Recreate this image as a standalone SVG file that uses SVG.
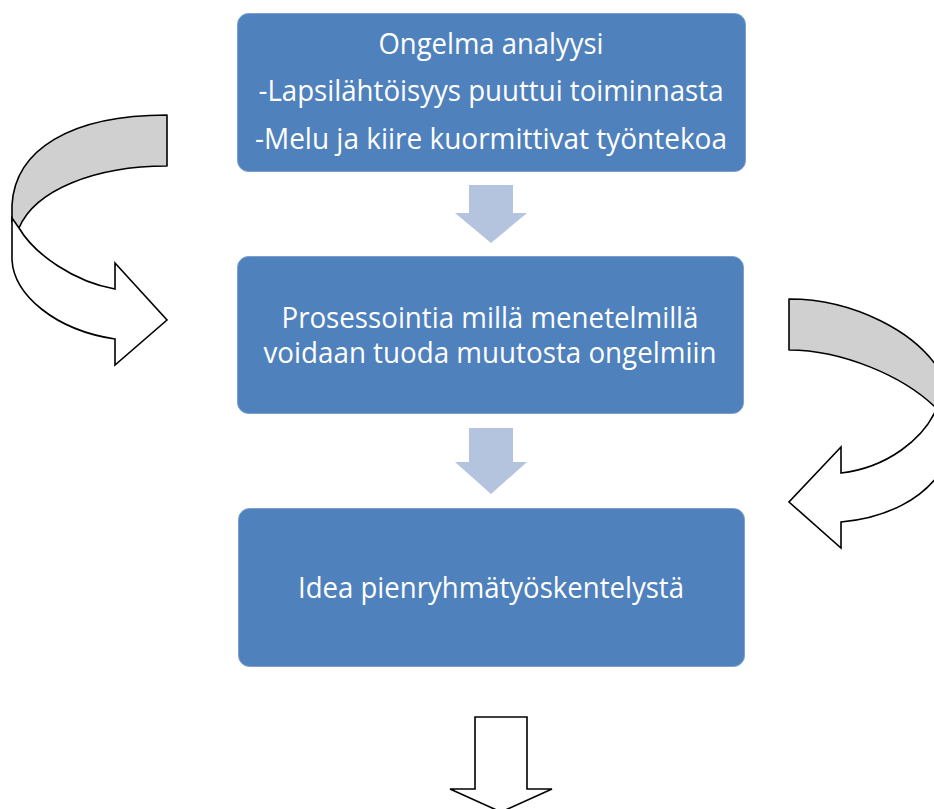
<svg xmlns="http://www.w3.org/2000/svg" width="934" height="809" viewBox="0 0 934 809">
  <style>
    .box { fill: #4F81BD; stroke: #7D9FCB; stroke-width: 1; }
    .lbl { fill: #FFFFFF; font-family: "Open Sans", "Noto Sans", "Liberation Sans", sans-serif; font-size: 28.5px; text-anchor: middle; }
    .chev { fill: #B4C4DF; stroke: none; }
    .ribbon-back { fill: #D0D0D0; stroke: #000000; stroke-width: 1.6; stroke-linejoin: round; }
    .ribbon-front { fill: #FFFFFF; stroke: #000000; stroke-width: 1.6; stroke-linejoin: miter; }
    .outline { fill: #FFFFFF; stroke: #000000; stroke-width: 1.6; }
  </style>
  <rect width="934" height="809" fill="#FFFFFF"/>

  <g id="node-ongelma">
    <rect class="box" x="237.5" y="13.5" width="508" height="158" rx="11"/>
    <text class="lbl" x="491" y="54" textLength="225" lengthAdjust="spacingAndGlyphs">Ongelma analyysi</text>
    <text class="lbl" x="491" y="101" textLength="465" lengthAdjust="spacingAndGlyphs">-Lapsilähtöisyys puuttui toiminnasta</text>
    <text class="lbl" x="491" y="149" textLength="472" lengthAdjust="spacingAndGlyphs">-Melu ja kiire kuormittivat työntekoa</text>
  </g>

  <g id="node-prosessointi">
    <rect class="box" x="237.5" y="256.5" width="506" height="157" rx="11"/>
    <text class="lbl" x="490" y="328" textLength="417" lengthAdjust="spacingAndGlyphs">Prosessointia millä menetelmillä</text>
    <text class="lbl" x="490" y="363" textLength="453" lengthAdjust="spacingAndGlyphs">voidaan tuoda muutosta ongelmiin</text>
  </g>

  <g id="node-idea">
    <rect class="box" x="238.5" y="508.5" width="506" height="158" rx="11"/>
    <text class="lbl" x="491" y="598" textLength="386" lengthAdjust="spacingAndGlyphs">Idea pienryhmätyöskentelystä</text>
  </g>

  <g id="connectors">
    <polygon class="chev" points="469,185 513,185 513,213 527,213 491,243 455,213 469,213"/>
    <polygon class="chev" points="469,428 513,428 513,462 527,462 491,494 455,462 469,462"/>

    <g id="curved-left">
      <path class="ribbon-back" d="M167,115 C70,115 15,150 12,205 L12,222 L19,228 C35,190 95,166 167,166 Z"/>
      <path class="ribbon-front" d="M19,228 C35,255 75,282 115,289 L115,263 L167,320 L115,365 L115,339 C55,330 14,295 12,260 L12,218 Z"/>
    </g>

    <g id="curved-right">
      <path class="ribbon-back" d="M789,299 C850,299 920,330 945,380 L945,412 L940,412 C905,375 840,350 789,350 Z"/>
      <path class="ribbon-front" d="M938,405 C925,440 885,468 841,473 L841,447 L789,502 L841,548 L841,522 C885,518 925,500 945,465 L945,405 Z"/>
    </g>

    <polygon class="outline" points="475,717 527,717 527,789 552,789 501,812 450,789 475,789"/>
  </g>
</svg>
